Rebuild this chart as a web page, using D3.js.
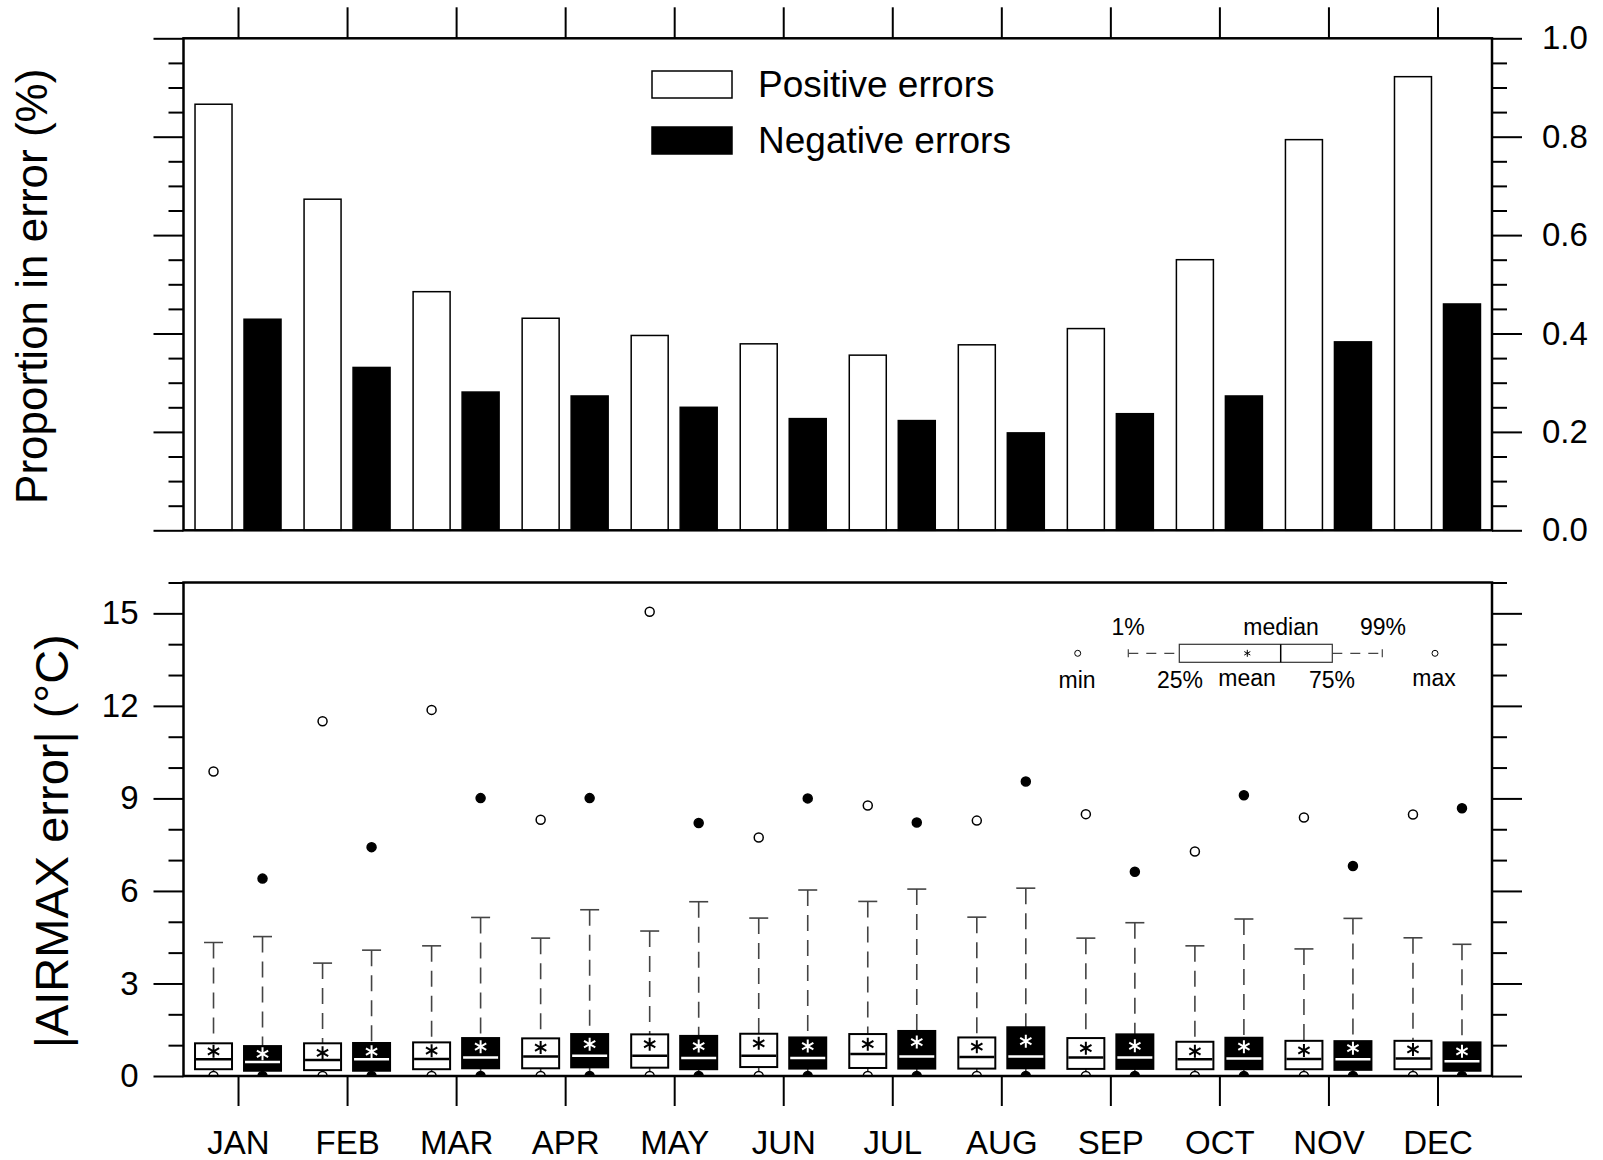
<!DOCTYPE html>
<html>
<head>
  <meta charset="utf-8">
  <script src="https://d3js.org/d3.v7.min.js"></script>
  <style>
    body { margin: 0; background: #fff; }
    svg { font-family: "Liberation Sans", Arial, Helvetica, sans-serif; }
    .tick text { fill: #000; }
  </style>
</head>
<body>
  <svg id="chart" width="1603" height="1160"></svg>
  <script>
    // ---- data ----
    const MONTHS = ["JAN", "FEB", "MAR", "APR", "MAY", "JUN", "JUL", "AUG", "SEP", "OCT", "NOV", "DEC"];

    // proportion in error (top panel)
    const POS_PROP = [0.866, 0.673, 0.485, 0.431, 0.396, 0.379, 0.356, 0.377, 0.410, 0.550, 0.794, 0.922];
    const NEG_PROP = [0.429, 0.331, 0.281, 0.273, 0.250, 0.227, 0.223, 0.198, 0.237, 0.273, 0.383, 0.460];

    // |AIRMAX error| statistics (bottom panel), positive errors
    const POS_MIN  = [0, 0, 0, 0, 0, 0, 0, 0, 0, 0, 0, 0];
    const POS_P1   = [0.02, 0.02, 0.02, 0.02, 0.02, 0.02, 0.02, 0.02, 0.02, 0.02, 0.02, 0.02];
    const POS_Q1   = [0.22, 0.19, 0.22, 0.25, 0.27, 0.29, 0.26, 0.24, 0.23, 0.22, 0.22, 0.22];
    const POS_MED  = [0.54, 0.52, 0.55, 0.63, 0.66, 0.66, 0.71, 0.62, 0.60, 0.54, 0.55, 0.57];
    const POS_MEAN = [0.80, 0.75, 0.82, 0.92, 1.03, 1.06, 1.03, 0.95, 0.90, 0.80, 0.83, 0.86];
    const POS_Q3   = [1.06, 1.06, 1.09, 1.22, 1.35, 1.37, 1.36, 1.25, 1.23, 1.11, 1.14, 1.14];
    const POS_P99  = [4.33, 3.66, 4.22, 4.47, 4.70, 5.12, 5.66, 5.15, 4.47, 4.22, 4.12, 4.48];
    const POS_MAX  = [9.87, 11.5, 11.87, 8.31, 15.05, 7.73, 8.77, 8.28, 8.49, 7.28, 8.38, 8.48];

    // negative errors
    const NEG_MIN  = [0, 0, 0, 0, 0, 0, 0, 0, 0, 0, 0, 0];
    const NEG_P1   = [0.02, 0.02, 0.02, 0.02, 0.02, 0.02, 0.02, 0.02, 0.02, 0.02, 0.02, 0.02];
    const NEG_Q1   = [0.17, 0.17, 0.25, 0.28, 0.22, 0.24, 0.24, 0.25, 0.23, 0.22, 0.20, 0.17];
    const NEG_MED  = [0.45, 0.54, 0.60, 0.66, 0.58, 0.58, 0.63, 0.63, 0.60, 0.57, 0.54, 0.48];
    const NEG_MEAN = [0.72, 0.79, 0.95, 1.03, 0.97, 0.97, 1.10, 1.13, 0.98, 0.95, 0.90, 0.80];
    const NEG_Q3   = [0.97, 1.07, 1.23, 1.36, 1.30, 1.25, 1.46, 1.58, 1.35, 1.24, 1.13, 1.09];
    const NEG_P99  = [4.52, 4.08, 5.14, 5.39, 5.65, 6.03, 6.06, 6.09, 4.97, 5.09, 5.11, 4.27];
    const NEG_MAX  = [6.40, 7.42, 9.01, 9.01, 8.20, 9.00, 8.22, 9.55, 6.62, 9.10, 6.81, 8.68];

    const TOP_TICKS = [0, 0.2, 0.4, 0.6, 0.8, 1.0];
    const BOT_TICKS = [0, 3, 6, 9, 12, 15];

    // ---- layout ----
    const LEFT = 183.5, RIGHT = 1492;
    const TOP1 = 38.3, BOT1 = 530.3;
    const TOP2 = 582.5, BOT2 = 1076;
    const FONT_TICK = 33;
    const FRAME_W = 2.5;
    const TICK_W = 2;

    const svg = d3.select("#chart");

    const xMonth = d3.scalePoint().domain(MONTHS).range([LEFT, RIGHT]).padding(0.5);
    const xSide = d3.scaleBand().domain(["pos", "neg"]).range([-43, 43]).paddingInner(0.245);
    const yTop = d3.scaleLinear().domain([0, 1]).range([BOT1, TOP1]);
    const yBot = d3.scaleLinear().domain([0, 16]).range([BOT2, TOP2]);

    function styleAxis(g, fontSize) {
      g.select(".domain").remove();
      g.selectAll(".tick line").attr("stroke", "#000").attr("stroke-width", TICK_W);
      g.selectAll(".tick text").style("font-size", fontSize + "px");
    }

    // ================= top panel =================
    const topPanel = svg.append("g");

    const topRows = MONTHS.map((m, i) => ({ m, pos: POS_PROP[i], neg: NEG_PROP[i] }));
    const barGroups = topPanel.selectAll(".month").data(topRows).enter().append("g")
      .attr("transform", d => `translate(${xMonth(d.m)},0)`);

    barGroups.append("rect")
      .attr("x", xSide("pos")).attr("width", xSide.bandwidth())
      .attr("y", d => yTop(d.pos)).attr("height", d => yTop(0) - yTop(d.pos))
      .attr("fill", "#fff").attr("stroke", "#000").attr("stroke-width", 1.5);
    barGroups.append("rect")
      .attr("x", xSide("neg")).attr("width", xSide.bandwidth())
      .attr("y", d => yTop(d.neg)).attr("height", d => yTop(0) - yTop(d.neg))
      .attr("fill", "#000").attr("stroke", "#000").attr("stroke-width", 1.5);

    const minorTop = d3.range(0, 21).map(i => i * 0.05).filter(v => Math.round(v * 100) % 20 !== 0);

    topPanel.append("g").attr("transform", `translate(${LEFT},0)`)
      .call(d3.axisLeft(yTop).tickValues(TOP_TICKS).tickSize(30).tickFormat(""))
      .call(g => styleAxis(g, FONT_TICK));
    topPanel.append("g").attr("transform", `translate(${LEFT},0)`)
      .call(d3.axisLeft(yTop).tickValues(minorTop).tickSize(15).tickFormat(""))
      .call(g => styleAxis(g, FONT_TICK));
    topPanel.append("g").attr("transform", `translate(${RIGHT},0)`)
      .call(d3.axisRight(yTop).tickValues(TOP_TICKS).tickSize(30).tickPadding(20).tickFormat(d3.format(".1f")))
      .call(g => styleAxis(g, FONT_TICK));
    topPanel.append("g").attr("transform", `translate(${RIGHT},0)`)
      .call(d3.axisRight(yTop).tickValues(minorTop).tickSize(15).tickFormat(""))
      .call(g => styleAxis(g, FONT_TICK));
    topPanel.append("g").attr("transform", `translate(0,${TOP1})`)
      .call(d3.axisTop(xMonth).tickSize(31).tickFormat(""))
      .call(g => styleAxis(g, FONT_TICK));

    topPanel.append("rect")
      .attr("x", LEFT).attr("y", TOP1).attr("width", RIGHT - LEFT).attr("height", BOT1 - TOP1)
      .attr("fill", "none").attr("stroke", "#000").attr("stroke-width", FRAME_W);

    topPanel.append("text")
      .attr("transform", `translate(47,${(TOP1 + BOT1) / 2 + 2}) rotate(-90)`)
      .attr("text-anchor", "middle").style("font-size", "44px")
      .text("Proportion in error (%)");

    // legend
    const LEGEND_ITEMS = [
      { label: "Positive errors", fill: "#fff" },
      { label: "Negative errors", fill: "#000" }
    ];
    const leg = topPanel.selectAll(".leg").data(LEGEND_ITEMS).enter().append("g")
      .attr("transform", (d, i) => `translate(652,${71 + i * 56})`);
    leg.append("rect").attr("width", 80).attr("height", 27)
      .attr("fill", d => d.fill).attr("stroke", "#000").attr("stroke-width", 1.5);
    leg.append("text").attr("x", 106).attr("y", 26).style("font-size", "37px").text(d => d.label);

    // ================= bottom panel =================
    const botPanel = svg.append("g");

    svg.append("defs").append("clipPath").attr("id", "plotclip")
      .append("rect").attr("x", LEFT).attr("y", TOP2).attr("width", RIGHT - LEFT).attr("height", BOT2 - TOP2);

    function asterisk(cx, cy, r) {
      const dx = r * Math.cos(Math.PI / 6), dy = r * Math.sin(Math.PI / 6);
      return `M${cx},${cy - r}L${cx},${cy + r}` +
             `M${cx - dx},${cy - dy}L${cx + dx},${cy + dy}` +
             `M${cx - dx},${cy + dy}L${cx + dx},${cy - dy}`;
    }

    const boxes = [];
    MONTHS.forEach((m, i) => {
      boxes.push({ m, side: "pos", min: POS_MIN[i], p1: POS_P1[i], q1: POS_Q1[i], med: POS_MED[i],
                   mean: POS_MEAN[i], q3: POS_Q3[i], p99: POS_P99[i], max: POS_MAX[i] });
      boxes.push({ m, side: "neg", min: NEG_MIN[i], p1: NEG_P1[i], q1: NEG_Q1[i], med: NEG_MED[i],
                   mean: NEG_MEAN[i], q3: NEG_Q3[i], p99: NEG_P99[i], max: NEG_MAX[i] });
    });

    const bw = xSide.bandwidth();
    const capW = 19;
    const plot = botPanel.append("g").attr("clip-path", "url(#plotclip)");
    const bx = plot.selectAll(".box").data(boxes).enter().append("g")
      .attr("transform", d => `translate(${xMonth(d.m) + xSide(d.side) + bw / 2},0)`);

    // whiskers
    bx.append("line")
      .attr("y1", d => yBot(d.p99)).attr("y2", d => yBot(d.q3))
      .attr("stroke", "#444").attr("stroke-width", 1.6).attr("stroke-dasharray", "16,9");
    bx.append("line")
      .attr("x1", -capW / 2).attr("x2", capW / 2)
      .attr("y1", d => yBot(d.p99)).attr("y2", d => yBot(d.p99))
      .attr("stroke", "#444").attr("stroke-width", 1.6);
    bx.append("line")
      .attr("y1", d => yBot(d.q1)).attr("y2", d => yBot(d.p1))
      .attr("stroke", "#444").attr("stroke-width", 1.6);

    // box
    bx.append("rect")
      .attr("x", -bw / 2).attr("width", bw)
      .attr("y", d => yBot(d.q3)).attr("height", d => yBot(d.q1) - yBot(d.q3))
      .attr("fill", d => d.side === "pos" ? "#fff" : "#000")
      .attr("stroke", "#000").attr("stroke-width", 2);
    bx.append("line")
      .attr("x1", -bw / 2 + 1).attr("x2", bw / 2 - 1)
      .attr("y1", d => yBot(d.med)).attr("y2", d => yBot(d.med))
      .attr("stroke", d => d.side === "pos" ? "#000" : "#fff").attr("stroke-width", 2.5);
    bx.append("path")
      .attr("d", d => asterisk(0, yBot(d.mean), 6.5))
      .attr("stroke", d => d.side === "pos" ? "#000" : "#fff").attr("stroke-width", 2).attr("fill", "none");

    // min / max markers
    bx.append("circle")
      .attr("cy", d => yBot(d.min)).attr("r", 4.5)
      .attr("fill", d => d.side === "pos" ? "#fff" : "#000")
      .attr("stroke", "#000").attr("stroke-width", 1.5);
    bx.append("circle")
      .attr("cy", d => yBot(d.max)).attr("r", 4.5)
      .attr("fill", d => d.side === "pos" ? "#fff" : "#000")
      .attr("stroke", "#000").attr("stroke-width", 1.5);

    // axes
    const minorBot = d3.range(0, 17).filter(v => v % 3 !== 0);
    botPanel.append("g").attr("transform", `translate(${LEFT},0)`)
      .call(d3.axisLeft(yBot).tickValues(BOT_TICKS).tickSize(30).tickPadding(15).tickFormat(d3.format("d")))
      .call(g => styleAxis(g, FONT_TICK));
    botPanel.append("g").attr("transform", `translate(${LEFT},0)`)
      .call(d3.axisLeft(yBot).tickValues(minorBot).tickSize(15).tickFormat(""))
      .call(g => styleAxis(g, FONT_TICK));
    botPanel.append("g").attr("transform", `translate(${RIGHT},0)`)
      .call(d3.axisRight(yBot).tickValues(BOT_TICKS).tickSize(30).tickFormat(""))
      .call(g => styleAxis(g, FONT_TICK));
    botPanel.append("g").attr("transform", `translate(${RIGHT},0)`)
      .call(d3.axisRight(yBot).tickValues(minorBot).tickSize(15).tickFormat(""))
      .call(g => styleAxis(g, FONT_TICK));
    botPanel.append("g").attr("transform", `translate(0,${BOT2})`)
      .call(d3.axisBottom(xMonth).tickSize(30).tickPadding(25))
      .call(g => styleAxis(g, FONT_TICK));

    botPanel.append("rect")
      .attr("x", LEFT).attr("y", TOP2).attr("width", RIGHT - LEFT).attr("height", BOT2 - TOP2)
      .attr("fill", "none").attr("stroke", "#000").attr("stroke-width", FRAME_W);

    botPanel.append("text")
      .attr("transform", `translate(68,${(TOP2 + BOT2) / 2 + 12}) rotate(-90)`)
      .attr("text-anchor", "middle").style("font-size", "47px")
      .text("|AIRMAX error| (°C)");

    // boxplot key
    const key = botPanel.append("g").style("font-size", "23px");
    const KY = 653.3;
    key.append("circle").attr("cx", 1077.7).attr("cy", KY).attr("r", 3)
      .attr("fill", "#fff").attr("stroke", "#000").attr("stroke-width", 1);
    key.append("circle").attr("cx", 1435).attr("cy", KY).attr("r", 3)
      .attr("fill", "#fff").attr("stroke", "#000").attr("stroke-width", 1);
    key.append("line").attr("x1", 1128.3).attr("x2", 1179.3).attr("y1", KY).attr("y2", KY)
      .attr("stroke", "#444").attr("stroke-width", 1.2).attr("stroke-dasharray", "10,8");
    key.append("line").attr("x1", 1332.3).attr("x2", 1382.3).attr("y1", KY).attr("y2", KY)
      .attr("stroke", "#444").attr("stroke-width", 1.2).attr("stroke-dasharray", "10,8");
    key.append("line").attr("x1", 1128.3).attr("x2", 1128.3).attr("y1", KY - 4).attr("y2", KY + 4)
      .attr("stroke", "#444").attr("stroke-width", 1.2);
    key.append("line").attr("x1", 1382.3).attr("x2", 1382.3).attr("y1", KY - 4).attr("y2", KY + 4)
      .attr("stroke", "#444").attr("stroke-width", 1.2);
    key.append("rect").attr("x", 1179.3).attr("y", KY - 9).attr("width", 153).attr("height", 18)
      .attr("fill", "#fff").attr("stroke", "#333").attr("stroke-width", 1.2);
    key.append("line").attr("x1", 1280.7).attr("x2", 1280.7).attr("y1", KY - 9).attr("y2", KY + 9)
      .attr("stroke", "#000").attr("stroke-width", 1.5);
    key.append("path").attr("d", asterisk(1247.3, KY, 3.5))
      .attr("stroke", "#000").attr("stroke-width", 1).attr("fill", "none");
    const KEY_LABELS = [
      ["1%", 1128, 635], ["median", 1281, 635], ["99%", 1383, 635],
      ["min", 1077, 688], ["25%", 1180, 688], ["mean", 1247, 686], ["75%", 1332, 688], ["max", 1434, 686]
    ];
    key.selectAll(".kl").data(KEY_LABELS).enter().append("text")
      .attr("x", d => d[1]).attr("y", d => d[2]).attr("text-anchor", "middle").text(d => d[0]);
  </script>
</body>
</html>
